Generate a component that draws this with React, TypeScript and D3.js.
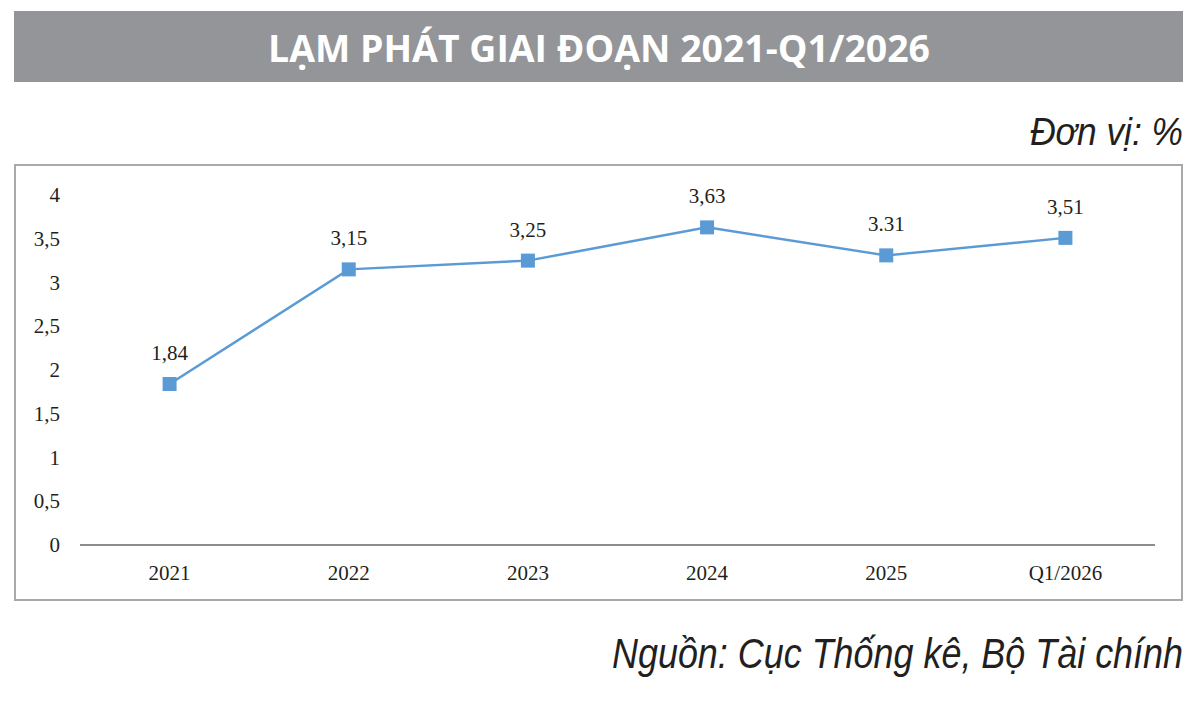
import { useRef, useEffect } from 'react';
import * as d3 from 'd3';

const categories = ['2021', '2022', '2023', '2024', '2025', 'Q1/2026'];
const inflation = [1.84, 3.15, 3.25, 3.63, 3.31, 3.51];
const valueLabels = ['1,84', '3,15', '3,25', '3,63', '3.31', '3,51'];
const yTicks = [0, 0.5, 1, 1.5, 2, 2.5, 3, 3.5, 4];
const yTickLabels = ['0', '0,5', '1', '1,5', '2', '2,5', '3', '3,5', '4'];

const W = 1200;
const H = 707;
const LINE_COLOR = '#5b9bd5';
const TEXT_COLOR = '#231f20';

export default function App() {
	const svgRef = useRef<SVGSVGElement>(null);

	useEffect(() => {
		const svg = d3.select(svgRef.current);
		svg.selectAll('*').remove();

		svg.append('rect').attr('width', W).attr('height', H).attr('fill', '#fff');

		// Title banner
		svg.append('rect')
			.attr('x', 14)
			.attr('y', 11)
			.attr('width', 1169)
			.attr('height', 71)
			.attr('fill', '#939598');

		svg.append('text')
			.attr('x', 599)
			.attr('y', 62)
			.attr('text-anchor', 'middle')
			.attr('fill', '#fff')
			.attr('font-family', '"Liberation Sans Narrow", "Open Sans", sans-serif')
			.attr('font-weight', 'bold')
			.attr('font-size', 38)
			.attr('textLength', 662)
			.attr('lengthAdjust', 'spacingAndGlyphs')
			.text('LẠM PHÁT GIAI ĐOẠN 2021-Q1/2026');

		// Unit
		svg.append('text')
			.attr('x', 1183)
			.attr('y', 145)
			.attr('text-anchor', 'end')
			.attr('fill', TEXT_COLOR)
			.attr('font-family', '"Liberation Sans Narrow", "Liberation Sans", sans-serif')
			.attr('font-style', 'italic')
			.attr('font-size', 38)
			.attr('textLength', 153)
			.attr('lengthAdjust', 'spacingAndGlyphs')
			.text('Đơn vị: %');

		// Plot frame
		svg.append('rect')
			.attr('x', 15)
			.attr('y', 165)
			.attr('width', 1167)
			.attr('height', 435)
			.attr('fill', 'none')
			.attr('stroke', '#a7a9ac')
			.attr('stroke-width', 2);

		const x = d3.scaleBand<string>().domain(categories).range([80, 1155]);
		const y = d3.scaleLinear().domain([0, 4]).range([545, 195]);
		const cx = (c: string) => (x(c) as number) + x.bandwidth() / 2;

		const serif = '"Liberation Serif", "Times New Roman", serif';

		// Y tick labels
		svg.append('g')
			.selectAll('text')
			.data(yTicks)
			.join('text')
			.attr('x', 60)
			.attr('y', (d) => y(d) + 7)
			.attr('text-anchor', 'end')
			.attr('fill', TEXT_COLOR)
			.attr('font-family', serif)
			.attr('font-size', 21)
			.text((_, i) => yTickLabels[i]);

		// X axis line
		svg.append('line')
			.attr('x1', 80)
			.attr('x2', 1155)
			.attr('y1', y(0))
			.attr('y2', y(0))
			.attr('stroke', '#8a8c8e')
			.attr('stroke-width', 2);

		// X labels
		svg.append('g')
			.selectAll('text')
			.data(categories)
			.join('text')
			.attr('x', (d) => cx(d))
			.attr('y', 580)
			.attr('text-anchor', 'middle')
			.attr('fill', TEXT_COLOR)
			.attr('font-family', serif)
			.attr('font-size', 21)
			.text((d) => d);

		// Line
		const line = d3
			.line<number>()
			.x((_, i) => cx(categories[i]))
			.y((d) => y(d));

		svg.append('path')
			.datum(inflation)
			.attr('d', line)
			.attr('fill', 'none')
			.attr('stroke', LINE_COLOR)
			.attr('stroke-width', 2.5);

		// Markers
		const M = 14;
		svg.append('g')
			.selectAll('rect')
			.data(inflation)
			.join('rect')
			.attr('x', (_, i) => cx(categories[i]) - M / 2)
			.attr('y', (d) => y(d) - M / 2)
			.attr('width', M)
			.attr('height', M)
			.attr('fill', LINE_COLOR);

		// Value labels
		svg.append('g')
			.selectAll('text')
			.data(inflation)
			.join('text')
			.attr('x', (_, i) => cx(categories[i]))
			.attr('y', (d) => y(d) - 24)
			.attr('text-anchor', 'middle')
			.attr('fill', TEXT_COLOR)
			.attr('font-family', serif)
			.attr('font-size', 21)
			.text((_, i) => valueLabels[i]);

		// Source
		svg.append('text')
			.attr('x', 1183)
			.attr('y', 668)
			.attr('text-anchor', 'end')
			.attr('fill', TEXT_COLOR)
			.attr('font-family', '"Liberation Sans Narrow", "Liberation Sans", sans-serif')
			.attr('font-style', 'italic')
			.attr('font-size', 42)
			.attr('textLength', 571)
			.attr('lengthAdjust', 'spacingAndGlyphs')
			.text('Nguồn: Cục Thống kê, Bộ Tài chính');
	}, []);

	return (
		<svg
			ref={svgRef}
			width={W}
			height={H}
			style={{ display: 'block', position: 'absolute', left: 0, top: 0 }}
		/>
	);
}
